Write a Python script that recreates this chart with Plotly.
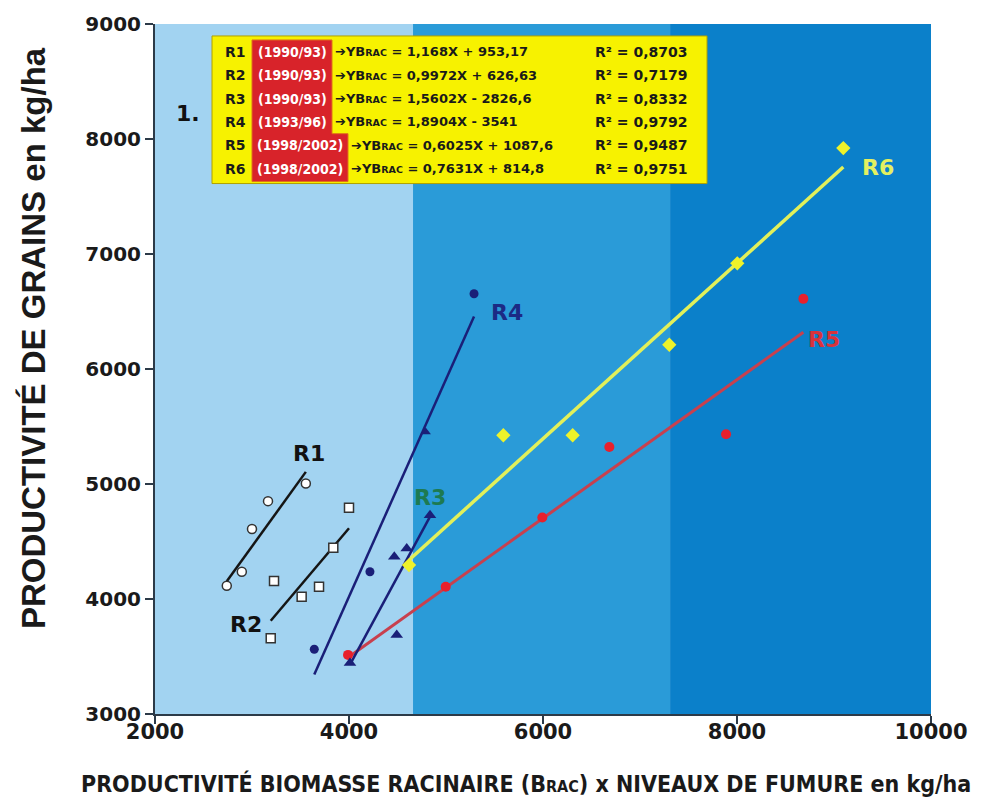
import plotly.graph_objects as go

# ---------------- data ----------------
r1_x = [2740, 2895, 3000, 3165, 3555]
r1_y = [4115, 4237, 4608, 4851, 5004]
r2_x = [3193, 3227, 3512, 3691, 3838, 4000]
r2_y = [3659, 4156, 4020, 4107, 4445, 4793]
r3_x = [4010, 4467, 4492, 4595, 4835]
r3_y = [3444, 4367, 3687, 4440, 4729]
r4_x = [3642, 4216, 4791, 5289]
r4_y = [3563, 4237, 5452, 6654]
r4_symbols = ["circle", "circle", "triangle-up", "circle"]
r5_x = [3990, 4997, 5993, 6684, 7887, 8684]
r5_y = [3514, 4107, 4709, 5322, 5432, 6610]
r6_x = [4619, 5591, 6306, 7302, 8003, 9096]
r6_y = [4295, 5424, 5424, 6211, 6919, 7921]

series_names = ["R1", "R2", "R3", "R4", "R5", "R6"]
periods = ["(1990/93)", "(1990/93)", "(1990/93)", "(1993/96)", "(1998/2002)", "(1998/2002)"]
slopes = [1.168, 0.9972, 1.5602, 1.8904, 0.6025, 0.7631]
intercepts = [953.17, 626.63, -2826.6, -3541, 1087.6, 814.8]
eq_texts = ["= 1,168X + 953,17", "= 0,9972X + 626,63", "= 1,5602X - 2826,6",
            "= 1,8904X - 3541", "= 0,6025X + 1087,6", "= 0,7631X + 814,8"]
r2_texts = ["0,8703", "0,7179", "0,8332", "0,9792", "0,9487", "0,9751"]

x_ticks = [2000, 4000, 6000, 8000, 10000]
y_ticks = [3000, 4000, 5000, 6000, 7000, 8000, 9000]
band_edges = [2000, 4660, 7310, 10000]

# ---------------- styles ----------------
band_colors = ["#a2d3f1", "#2a9bd8", "#0b80ca"]
NAVY = "#1a1f78"
line_colors = ["#151515", "#151515", NAVY, NAVY, "#c8404e", "#e2f05a"]
label_colors = ["#111111", "#111111", "#1d7a52", "#1c2a84", "#d8323c", "#e4f060"]

W, H = 981, 807
L, R, T, B = 155, 931, 22, 714


def px(xp):
    return (xp - L) / (R - L)


def py(yp):
    return (B - yp) / (B - T)


fig = go.Figure()

# background bands
for i in range(3):
    fig.add_shape(type="rect", xref="x", yref="paper",
                  x0=band_edges[i], x1=band_edges[i + 1], y0=0, y1=1,
                  fillcolor=band_colors[i], line_width=0, layer="below")

all_x = [r1_x, r2_x, r3_x, r4_x, r5_x, r6_x]
all_y = [r1_y, r2_y, r3_y, r4_y, r5_y, r6_y]
line_widths = [2.5, 2.5, 2.5, 2.5, 3, 3.5]

# regression lines
for i in [0, 1, 4, 5, 2, 3]:
    xs = [min(all_x[i]), max(all_x[i])]
    ys = [slopes[i] * v + intercepts[i] for v in xs]
    fig.add_trace(go.Scatter(x=xs, y=ys, mode="lines",
                             line=dict(color=line_colors[i], width=line_widths[i]),
                             showlegend=False, hoverinfo="skip"))

# markers
fig.add_trace(go.Scatter(x=r1_x, y=r1_y, mode="markers", showlegend=False,
                         marker=dict(symbol="circle", size=9, color="white",
                                     line=dict(color="#333333", width=1.5))))
fig.add_trace(go.Scatter(x=r2_x, y=r2_y, mode="markers", showlegend=False,
                         marker=dict(symbol="square", size=9, color="white",
                                     line=dict(color="#333333", width=1.5))))
fig.add_trace(go.Scatter(x=r5_x, y=r5_y, mode="markers", showlegend=False,
                         marker=dict(symbol="circle", size=10, color="#e8202c",
                                     line=dict(width=0))))
fig.add_trace(go.Scatter(x=r6_x, y=r6_y, mode="markers", showlegend=False,
                         marker=dict(symbol="diamond", size=11, color="#eef22a",
                                     line=dict(width=0))))
fig.add_trace(go.Scatter(x=r3_x, y=r3_y, mode="markers", showlegend=False,
                         marker=dict(symbol="triangle-up", size=11, color=NAVY,
                                     line=dict(width=0))))
fig.add_trace(go.Scatter(x=r4_x, y=r4_y, mode="markers", showlegend=False,
                         marker=dict(symbol=r4_symbols, size=9, color=NAVY,
                                     opacity=1, line=dict(width=0, color=NAVY))))

# series labels on chart
LABEL_FONT = "DejaVu Sans"
label_pos = [(309, 453), (246, 624), (430, 497), (507, 311), (824, 338), (878, 166)]
for i, (lx, ly) in enumerate(label_pos):
    fig.add_annotation(xref="paper", yref="paper", x=px(lx), y=py(ly),
                       text="<b>%s</b>" % series_names[i], showarrow=False,
                       xanchor="center", yanchor="middle",
                       font=dict(family=LABEL_FONT, size=22, color=label_colors[i]))

fig.add_annotation(xref="paper", yref="paper", x=px(188), y=py(112), text="<b>1.</b>",
                   showarrow=False, xanchor="center", yanchor="middle",
                   font=dict(family=LABEL_FONT, size=22, color="#111111"))

# equation box
fig.add_shape(type="rect", xref="paper", yref="paper",
              x0=px(212), x1=px(707), y0=py(182), y1=py(34),
              fillcolor="#f7f200", line=dict(color="#b0a000", width=1))
path = "M %f %f L %f %f L %f %f L %f %f L %f %f L %f %f Z" % (
    px(252), py(38), px(332), py(38), px(332), py(132), px(348), py(132),
    px(348), py(180), px(252), py(180))
fig.add_shape(type="path", xref="paper", yref="paper", path=path,
              fillcolor="#d8232a", line=dict(color="#e0701a", width=1))

row_y = [50, 73.4, 96.8, 120.2, 143.6, 167]
FS = 14
for i in range(6):
    yy = py(row_y[i])
    wide = i >= 4
    fig.add_annotation(xref="paper", yref="paper", x=px(223), y=yy,
                       xanchor="left", yanchor="middle",
                       text="<b>%s</b>" % series_names[i], showarrow=False,
                       font=dict(family="DejaVu Sans", size=FS, color="#1a1a1a"))
    fig.add_annotation(xref="paper", yref="paper", x=px(300 if wide else 292), y=yy,
                       xanchor="center", yanchor="middle",
                       text="<b>%s</b>" % periods[i], showarrow=False,
                       font=dict(family="DejaVu Sans Condensed, DejaVu Sans", size=FS, color="white"))
    fig.add_annotation(xref="paper", yref="paper", x=px(349 if wide else 333), y=yy,
                       xanchor="left", yanchor="middle", showarrow=False,
                       text="<b>➔YB<span style='font-size:9.5px'>RAC</span> %s</b>" % eq_texts[i],
                       font=dict(family="DejaVu Sans", size=13, color="#1a1a1a"))
    fig.add_annotation(xref="paper", yref="paper", x=px(593), y=yy,
                       xanchor="left", yanchor="middle", showarrow=False,
                       text="<b>R² = %s</b>" % r2_texts[i],
                       font=dict(family="DejaVu Sans", size=FS, color="#1a1a1a"))

# axis titles
fig.add_annotation(xref="paper", yref="paper", x=px(33), y=py(337), textangle=-90,
                   text="<b>PRODUCTIVITÉ DE GRAINS en kg/ha</b>", showarrow=False,
                   xanchor="center", yanchor="middle",
                   font=dict(family="Liberation Sans, Arial, sans-serif", size=33, color="#1a1a1a"))
fig.add_annotation(xref="paper", yref="paper", x=px(526), y=py(784),
                   text="<b>PRODUCTIVITÉ BIOMASSE RACINAIRE (B<span style='font-size:16px'>RAC</span>) x NIVEAUX DE FUMURE en kg/ha</b>",
                   showarrow=False, xanchor="center", yanchor="middle",
                   font=dict(family="DejaVu Sans Condensed, DejaVu Sans", size=23, color="#1a1a1a"))

axis_common = dict(showgrid=False, zeroline=False, showline=True, linecolor="#2c3a48",
                   linewidth=2, ticks="outside", ticklen=8, tickwidth=1.5, tickcolor="#2c3a48",
                   mirror=False)

fig.update_layout(
    width=W, height=H,
    margin=dict(l=L, r=W - R, t=T, b=H - B),
    paper_bgcolor="white", plot_bgcolor="white",
    showlegend=False,
    xaxis=dict(range=[2000, 10000], tickvals=x_ticks,
               ticktext=["<b>%d</b>" % v for v in x_ticks], ticklabelstandoff=-10,
               tickfont=dict(family="DejaVu Sans", size=21, color="#1a1a1a"), **axis_common),
    yaxis=dict(range=[3000, 9000], tickvals=y_ticks,
               ticktext=["<b>%d</b>" % v for v in y_ticks],
               tickfont=dict(family="DejaVu Sans", size=20, color="#1a1a1a"), **axis_common),
)

fig.write_html("out.html", config={"displayModeBar": False},
               post_script="document.body.style.margin='0';")
